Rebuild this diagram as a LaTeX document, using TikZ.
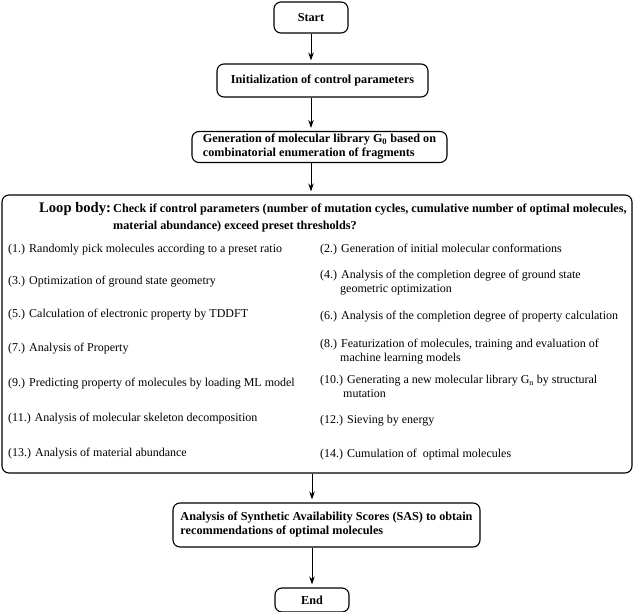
\documentclass[tikz,border=0pt]{standalone}
\usepackage{fontspec}
\setmainfont{Liberation Serif}
\usetikzlibrary{arrows.meta,calc}
\begin{document}
\begin{tikzpicture}[x=1pt,y=-1pt,
  box/.style={draw, line width=1.1pt, rounded corners=7pt, inner sep=0pt},
  arr/.style={-{Stealth[length=8pt,width=5.5pt]}, line width=0.9pt, shorten >=3pt},
  item/.style={anchor=base west, inner sep=0pt, font=\fontsize{12}{14}\selectfont, align=left},
  btxt/.style={font=\fontsize{12.2}{14}\selectfont\bfseries, align=left}
]
\useasboundingbox (0,0) rectangle (635,612);
\node[box, btxt, minimum width=74pt, minimum height=31pt] (start) at (311,17.5) {Start};
\node[box, btxt, minimum width=211pt, minimum height=33pt] (init) at (322.5,80.5) {Initialization of control parameters};
\node[box, btxt, minimum width=255pt, minimum height=31pt] (gen) at (319.5,147) {Generation of molecular library G\textsubscript{0} based on\\combinatorial enumeration of fragments};
\node[box, minimum width=630pt, minimum height=278pt] (loop) at (317,334) {};
\node[box, btxt, minimum width=307pt, minimum height=44pt] (sas) at (326.5,525) {Analysis of Synthetic Availability Scores (SAS) to obtain\\recommendations of optimal molecules};
\node[box, btxt, minimum width=74pt, minimum height=24pt] (end) at (312,600) {End};

\node[anchor=base west, inner sep=0pt, font=\fontsize{14.6}{16}\selectfont\bfseries] (lb) at (39,213) {Loop body:};
\node[anchor=base west, inner sep=0pt, btxt] (chk) at (113,229.5) {Check if control parameters (number of mutation cycles, cumulative number of optimal molecules,\\[2.5pt]material abundance) exceed preset thresholds?};

\node[item] (i1) at (8,252.5) {(1.) Randomly pick molecules according to a preset ratio};
\node[item] (i3) at (8,284.5) {(3.) Optimization of ground state geometry};
\node[item] (i5) at (8,317.5) {(5.) Calculation of electronic property by TDDFT};
\node[item] (i7) at (8,351.5) {(7.) Analysis of Property};
\node[item] (i9) at (8,386.5) {(9.) Predicting property of molecules by loading ML model};
\node[item] (i11) at (8,421.5) {(11.) Analysis of molecular skeleton decomposition};
\node[item] (i13) at (8,456.5) {(13.) Analysis of material abundance};

\node[item] (i2) at (320,252.5) {(2.) Generation of initial molecular conformations};
\node[item] (i4) at (320,292.5) {(4.) Analysis of the completion degree of ground state\\\phantom{(4.)\ }geometric optimization};
\node[item] (i6) at (320,319.5) {(6.) Analysis of the completion degree of property calculation};
\node[item] (i8) at (320,361.5) {(8.) Featurization of molecules, training and evaluation of\\\phantom{(8.)\ }machine learning models};
\node[item] (i10) at (320,397.5) {(10.) Generating a new molecular library G\textsubscript{n} by structural\\\phantom{(10.)}mutation};
\node[item] (i12) at (320,423.5) {(12.) Sieving by energy};
\node[item] (i14) at (320,457.5) {(14.) Cumulation of\ \ optimal molecules};

\draw[arr] (start.south) -- (start.south |- init.north);
\draw[arr] (init.south -| start.south) -- (gen.north -| start.south);
\draw[arr] (gen.south -| start.south) -- (loop.north -| start.south);
\draw[arr] (loop.south -| end.north) -- (sas.north -| end.north);
\draw[arr] (sas.south -| end.north) -- (end.north);
\end{tikzpicture}
\end{document}
